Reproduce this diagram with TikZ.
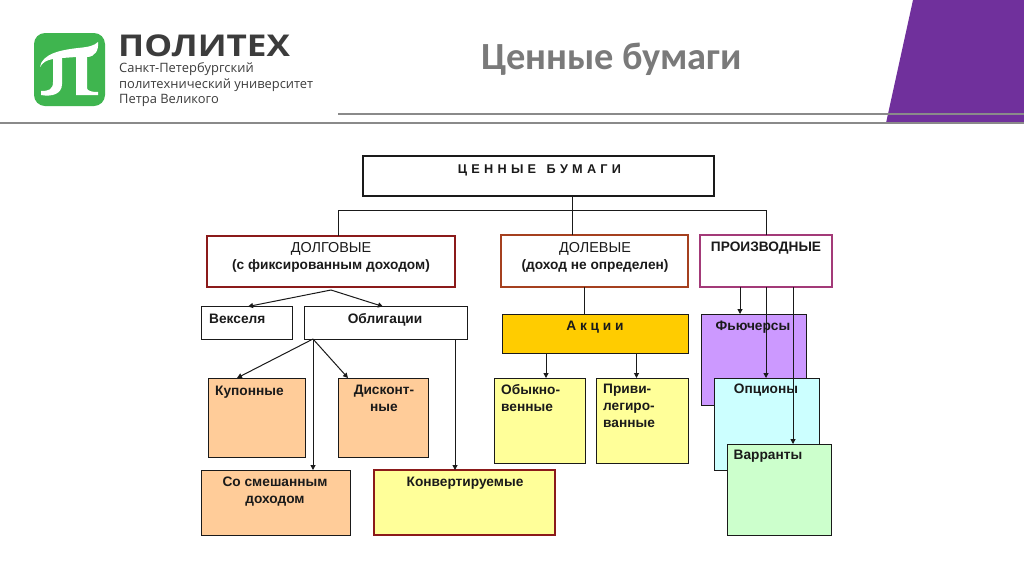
\documentclass[tikz,border=0pt]{standalone}
\usepackage{fontspec}
\setmainfont{Liberation Sans}
\newfontfamily\titlefont{Carlito}
\newfontfamily\logofont{Open Sans}
\usetikzlibrary{arrows.meta}
\definecolor{darkred}{HTML}{8B1A1A}
\definecolor{rust}{HTML}{A5401F}
\definecolor{plum}{HTML}{A33A78}
\definecolor{peach}{HTML}{FFCC99}
\definecolor{paleyellow}{HTML}{FFFF99}
\definecolor{gold}{HTML}{FFCC00}
\definecolor{lilac}{HTML}{CC99FF}
\definecolor{paleblue}{HTML}{CCFFFF}
\definecolor{palegreen}{HTML}{CCFFCC}
\definecolor{ink}{HTML}{1A1A1A}
\definecolor{rulegray}{HTML}{8A8A8A}
\definecolor{purple1}{HTML}{70309C}
\definecolor{logogreen}{HTML}{3FB54F}
\definecolor{logoink}{HTML}{3C3C3C}
\tikzset{
  x=1pt,y=-1pt,
  bx/.style={draw=ink,line width=1pt,inner sep=0pt,outer sep=0pt},
  heavy/.style={line width=2pt},
  lbl/.style={font=\fontsize{13.7}{17}\selectfont\bfseries,text=ink,inner sep=0pt,align=center},
  lbll/.style={lbl,anchor=west,align=left},
  conn/.style={draw=ink,line width=1pt},
  arr/.style={conn,-{Triangle[length=5pt,width=5pt]}},
  rulel/.style={draw=rulegray,line width=1.7pt},
  smalllogo/.style={font=\logofont\fontsize{12.9}{15}\selectfont,text=logoink,inner sep=0pt,anchor=west},
}
% name, x0, y0, x1, y1, style
\newcommand{\boxn}[6]{\node[bx,#6,minimum width=#4pt-#2pt,minimum height=#5pt-#3pt] (#1) at ({(#2+#4)/2},{(#3+#5)/2}) {};}
\begin{document}
\begin{tikzpicture}
\useasboundingbox (0,0) rectangle (1024,574);
\fill[white] (0,0) rectangle (1024,574);
% header
\fill[purple1] (913,0) -- (886,123) -- (1024,123) -- (1024,0) -- cycle;
\coordinate (r1a) at (338,114); \coordinate (r1b) at (1024,114);
\coordinate (r2a) at (0,123); \coordinate (r2b) at (1024,123);
\draw[rulel] (r1a) -- (r1b);
\draw[rulel] (r2a) -- (r2b);
\node[font=\titlefont\bfseries\fontsize{38.4}{42}\selectfont,text=black!52,inner sep=0pt] (title) at (611.5,59) {Ценные бумаги};
% logo
\fill[logogreen,rounded corners=11pt] (34,33) rectangle (105,106);
\fill[white] (40,67) .. controls (42,54) and (60,50) .. (78,48)
  .. controls (88,47) and (94,46) .. (98,42)
  .. controls (99,50) and (95,57) .. (87,57)
  -- (87,88) .. controls (87,91) and (92,92) .. (98,92)
  -- (98,95) -- (76,95) -- (76,57) -- (62,58) -- (62,84)
  .. controls (62,94) and (52,97) .. (41,95)
  -- (41,91) .. controls (48,91) and (53,90) .. (53,82)
  -- (53,59) .. controls (47,60) and (43,62) .. (40,67) -- cycle;
\node[font=\logofont\bfseries\fontsize{30}{32}\selectfont,text=logoink,inner sep=0pt,anchor=west,xscale=1.17] (logo1) at (118,46) {ПОЛИТЕХ};
\node[smalllogo] (logo2) at (119,69) {Санкт-Петербургский};
\node[smalllogo] (logo3) at (119,85) {политехнический университет};
\node[smalllogo] (logo4) at (119,100) {Петра Великого};
% boxes
\boxn{main}{363}{156}{714}{196}{heavy,fill=white}
\boxn{dolg}{207}{236}{455}{287}{heavy,draw=darkred,fill=white}
\boxn{dolev}{501}{235}{688}{287}{heavy,draw=rust,fill=white}
\boxn{proizv}{700}{235}{831.5}{287}{heavy,draw=plum,fill=white}
\boxn{veks}{201}{306.5}{292}{339}{fill=white}
\boxn{oblig}{304.5}{306.5}{467}{339}{fill=white}
\boxn{akcii}{502}{314}{688}{353}{fill=gold}
\boxn{kup}{208}{378}{305}{457}{fill=peach}
\boxn{disk}{338}{378}{428}{457}{fill=peach}
\boxn{smesh}{201}{470}{350.5}{535}{fill=peach}
\boxn{konv}{374}{470}{555}{535}{heavy,draw=darkred,fill=paleyellow}
\boxn{obyk}{494}{378}{585}{463}{fill=paleyellow}
\boxn{priv}{596.5}{378}{688.5}{463}{fill=paleyellow}
\boxn{fut}{701}{314}{806}{405}{fill=lilac}
\boxn{opc}{714}{378}{819}{470}{fill=paleblue}
\boxn{var}{727}{444}{831.5}{535}{fill=palegreen}
% labels
\node[lbl,font=\fontsize{12.7}{15}\selectfont\bfseries] (tmain) at (539.5,170.5) {Ц\,\,Е\,\,Н\,\,Н\,\,Ы\,\,Е\,\,\,\,\,Б\,\,У\,\,М\,\,А\,\,Г\,\,И};
\node[lbl] (tdolg) at (331,257) {{\fontsize{14.4}{17}\selectfont\mdseries ДОЛГОВЫЕ}\\(с фиксированным доходом)};
\node[lbl] (tdolev) at (595,257) {{\fontsize{14.4}{17}\selectfont\mdseries ДОЛЕВЫЕ}\\(доход не определен)};
\node[lbl] (tproizv) at (766,248.5) {ПРОИЗВОДНЫЕ};
\node[lbll] (tveks) at (209,318.5) {Векселя};
\node[lbl] (toblig) at (385,319.5) {Облигации};
\node[lbl] (takc) at (595,327.5) {А к ц и и};
\node[lbll] (tkup) at (215,392.5) {Купонные};
\node[lbl] (tdisk) at (384,398.5) {Дисконт-\\ные};
\node[lbl] (tsmesh) at (275,492) {Со смешанным\\доходом};
\node[lbl] (tkonv) at (465,483.5) {Конвертируемые};
\node[lbll] (tobyk) at (501,398) {Обыкно-\\венные};
\node[lbll] (tpriv) at (603,406) {Приви-\\легиро-\\ванные};
\node[lbl] (tfut) at (753,327) {Фьючерсы};
\node[lbl] (topc) at (766,390.5) {Опционы};
\node[lbl] (tvar) at (768,456.5) {Варранты};
% connectors
\coordinate (trunk) at (572,210);
\draw[conn] (main.south -| trunk) -- (trunk);
\draw[conn] (dolg.north -| 338,0) |- (trunk);
\draw[conn] (dolev.north -| trunk) -- (trunk);
\draw[conn] (proizv.north -| 766,0) |- (trunk);
\coordinate (fork1) at (331,290);
\draw[arr] (fork1) -- (veks.north -| 248,0);
\draw[arr] (fork1) -- (oblig.north -| 383,0);
\coordinate (fork2) at (313,339);
\draw[arr] (fork2) -- (kup.north -| 237,0);
\draw[arr] (fork2) -- (disk.north -| 348,0);
\draw[arr] (fork2) -- (smesh.north -| 313,0);
\draw[arr] (oblig.south -| 455,0) -- (konv.north -| 455,0);
\draw[conn] (dolev.south -| 584.5,0) -- (akcii.north -| 584.5,0);
\draw[arr] (akcii.south -| 546,0) -- (obyk.north -| 546,0);
\draw[arr] (akcii.south -| 636.5,0) -- (priv.north -| 636.5,0);
\draw[arr] (proizv.south -| 740,0) -- (fut.north -| 740,0);
\draw[arr] (proizv.south -| 766,0) -- (opc.north -| 766,0);
\draw[arr] (proizv.south -| 793,0) -- (var.north -| 793,0);
\end{tikzpicture}
\end{document}
